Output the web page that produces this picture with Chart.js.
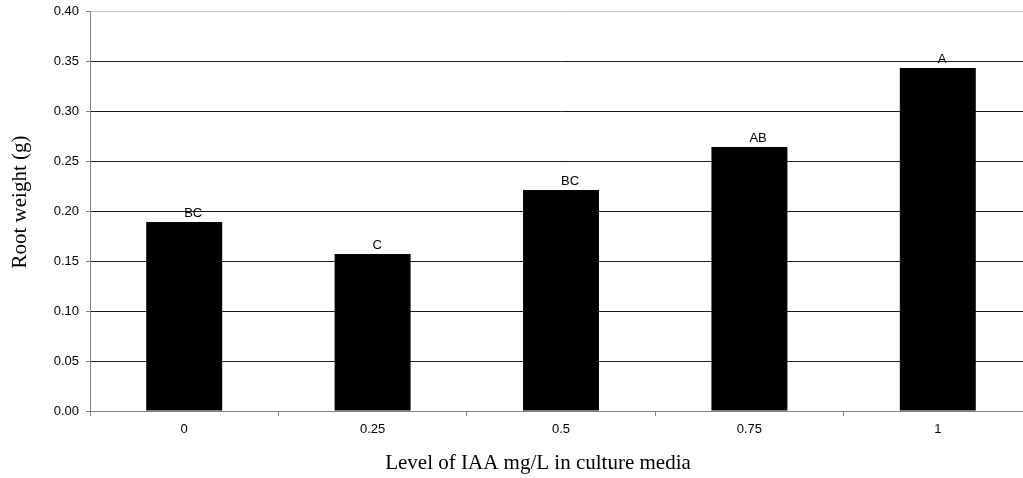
<!DOCTYPE html>
<html>
<head>
<meta charset="utf-8">
<script src="https://cdn.jsdelivr.net/npm/chart.js@4"></script>
<style>
  html, body { margin: 0; padding: 0; background: #fff; overflow: hidden; }
  #wrap { position: relative; width: 1045px; height: 478px; }
</style>
</head>
<body>
<div id="wrap"><canvas id="rootChart"></canvas></div>
<script>
// IAA levels and mean root weight
var levels = ["0", "0.25", "0.5", "0.75", "1"];
var rootWeight = [0.189, 0.157, 0.221, 0.264, 0.343];
var groupLetters = ["BC", "C", "BC", "AB", "A"];

var yTitle = "Root weight (g)";
var xTitle = "Level of IAA mg/L in culture media";

// letters above each bar + the two axis titles
var letterPlugin = {
    id: "letters",
    afterDatasetsDraw: function (chart) {
        var ctx = chart.ctx;
        var meta = chart.getDatasetMeta(0);
        ctx.save();
        ctx.fillStyle = "#000";
        ctx.font = "13px 'Liberation Sans', Arial, sans-serif";
        ctx.textAlign = "left";
        ctx.textBaseline = "alphabetic";
        meta.data.forEach(function (bar, i) {
            ctx.fillText(groupLetters[i], bar.x, bar.y - 5);
        });

        ctx.font = "21px 'Liberation Serif', 'Times New Roman', serif";
        ctx.textAlign = "center";
        ctx.textBaseline = "middle";
        ctx.fillText(xTitle, 538, 463);
        ctx.translate(20, 202);
        ctx.rotate(-Math.PI / 2);
        ctx.fillText(yTitle, 0, 0);
        ctx.restore();
    },
};

var ctx = document.getElementById("rootChart").getContext("2d");
new Chart(ctx, {
    type: "bar",
    data: {
        labels: levels,
        datasets: [
            {
                label: "Root weight",
                data: rootWeight,
                backgroundColor: "#000",
                borderWidth: 0,
                barPercentage: 0.8,
                categoryPercentage: 0.504,
            },
        ],
    },
    options: {
        responsive: true,
        maintainAspectRatio: false,
        animation: false,
        layout: { padding: { left: 0, right: 13, top: 11, bottom: 0 } },
        plugins: {
            legend: { display: false },
            tooltip: { enabled: false },
        },
        scales: {
            x: {
                afterFit: function (scale) {
                    scale.height = 67;
                    scale.paddingLeft = 0;
                    scale.paddingRight = 0;
                },
                grid: {
                    offset: true,
                    drawOnChartArea: false,
                    drawTicks: true,
                    tickLength: 5,
                    tickColor: "#808080",
                },
                border: { color: "#808080", width: 1 },
                ticks: {
                    color: "#000",
                    padding: 6,
                    font: { family: "'Liberation Sans', Arial, sans-serif", size: 13 },
                },
            },
            y: {
                min: 0,
                max: 0.4,
                afterFit: function (scale) {
                    scale.width = 90;
                    scale.paddingTop = 0;
                    scale.paddingBottom = 0;
                },
                grid: {
                    color: function (c) {
                        return c.tick && c.tick.value >= 0.4 ? "#c8c8c8" : "#1a1a1a";
                    },
                    tickLength: 4,
                    tickColor: "#808080",
                },
                border: { color: "#808080", width: 1 },
                ticks: {
                    stepSize: 0.05,
                    color: "#000",
                    padding: 7,
                    font: { family: "'Liberation Sans', Arial, sans-serif", size: 13 },
                    callback: function (v) { return v.toFixed(2); },
                },
            },
        },
    },
    plugins: [letterPlugin],
});
</script>
</body>
</html>
